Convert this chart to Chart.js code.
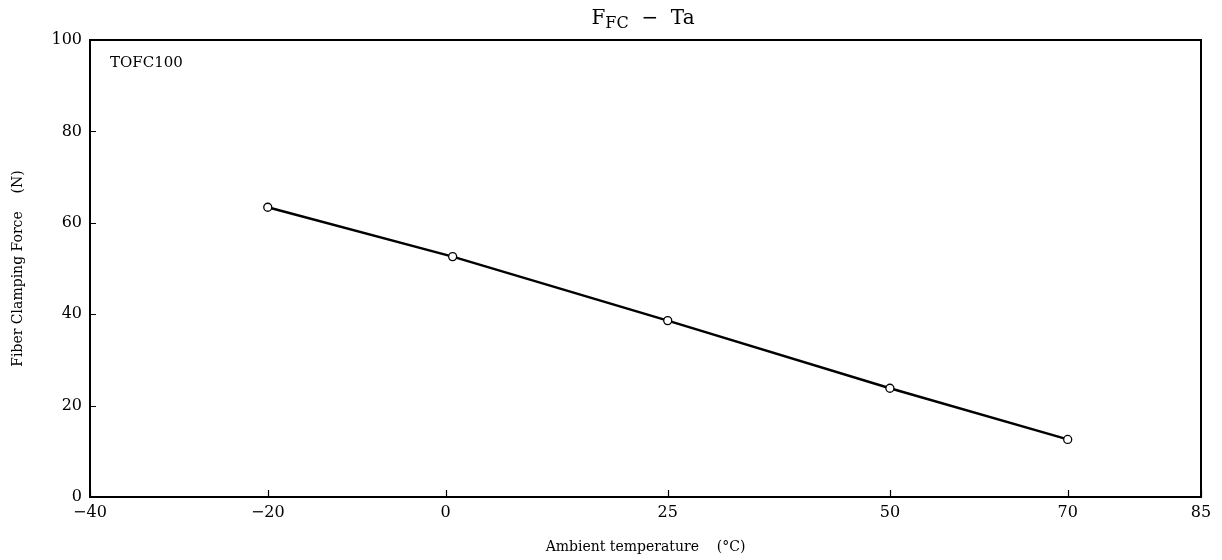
<!DOCTYPE html>
<html>
<head>
<meta charset="utf-8">
<script src="https://cdn.jsdelivr.net/npm/chart.js@4/dist/chart.umd.min.js"></script>
<style>
  html, body { margin: 0; padding: 0; background: #fff; }
  #wrap { width: 1222px; height: 560px; }
</style>
</head>
<body>
<div id="wrap"><canvas id="myChart"></canvas></div>
<script>
// values
const temps = [-20, 0.8, 25, 50, 70];
const forces = [63.4, 52.6, 38.6, 23.8, 12.6];
const xTicks = [-40, -20, 0, 25, 50, 70, 85];
const yTicks = [0, 20, 40, 60, 80, 100];

const serif = '"DejaVu Serif", "Liberation Serif", serif';

// frame, inward tick marks, title and in-plot label
const decor = {
    id: 'decor',
    afterDraw(chart) {
        const ctx = chart.ctx;
        const a = chart.chartArea;
        const xs = chart.scales.x, ys = chart.scales.y;
        ctx.save();
        ctx.strokeStyle = '#000';
        ctx.lineWidth = 2;
        ctx.strokeRect(a.left, a.top, a.right - a.left, a.bottom - a.top);

        ctx.lineWidth = 1.2;
        ctx.beginPath();
        xTicks.forEach(v => {
            const px = Math.round(xs.getPixelForValue(v)) + 0.5;
            ctx.moveTo(px, a.bottom);
            ctx.lineTo(px, a.bottom - 7);
        });
        yTicks.forEach(v => {
            const py = Math.round(ys.getPixelForValue(v)) + 0.5;
            ctx.moveTo(a.left, py);
            ctx.lineTo(a.left + 6, py);
        });
        ctx.stroke();

        // title  F_FC - Ta
        ctx.fillStyle = '#000';
        ctx.textBaseline = 'alphabetic';
        ctx.textAlign = 'left';
        const big = '20px ' + serif, small = '16px ' + serif;
        ctx.font = big;
        const w1 = ctx.measureText('F').width;
        const w3 = ctx.measureText('  \u2212  Ta').width;
        ctx.font = small;
        const w2 = ctx.measureText('FC').width;
        let x = 643 - (w1 + w2 + w3) / 2;
        ctx.font = big;
        ctx.fillText('F', x, 24);
        x += w1;
        ctx.font = small;
        ctx.fillText('FC', x, 28);
        x += w2;
        ctx.font = big;
        ctx.fillText('  \u2212  Ta', x, 24);

        ctx.font = '15px ' + serif;
        ctx.fillText('TOFC100', a.left + 20, 67);
        ctx.restore();
    }
};

const ctx = document.getElementById('myChart').getContext('2d');
const chart = new Chart(ctx, {
    type: 'scatter',
    data: {
        datasets: [{
            label: 'TOFC100',
            data: temps.map((t, i) => ({ x: t, y: forces[i] })),
            showLine: true,
            borderColor: '#000',
            borderWidth: 2.5,
            tension: 0,
            pointRadius: 4,
            pointBackgroundColor: '#fff',
            pointBorderColor: '#000',
            pointBorderWidth: 1.3
        }]
    },
    options: {
        responsive: true,
        maintainAspectRatio: false,
        animation: false,
        layout: { padding: { top: 40, right: 21, left: 0, bottom: 0 } },
        plugins: {
            legend: { display: false },
            tooltip: { enabled: false }
        },
        scales: {
            x: {
                type: 'linear',
                min: -40,
                max: 85,
                afterBuildTicks: scale => {
                    scale.ticks = xTicks.map(v => ({ value: v }));
                },
                afterFit: scale => { scale.height = 63; },
                border: { display: false },
                grid: { display: false, drawTicks: false },
                ticks: {
                    color: '#000',
                    padding: 6,
                    maxRotation: 0,
                    font: { family: serif, size: 16 },
                    callback: v => String(v).replace('-', '\u2212')
                },
                title: {
                    display: true,
                    text: 'Ambient temperature    (\u00b0C)',
                    color: '#000',
                    font: { family: serif, size: 14 },
                    padding: { top: 0, bottom: 4 }
                }
            },
            y: {
                min: 0,
                max: 100,
                afterBuildTicks: scale => {
                    scale.ticks = yTicks.map(v => ({ value: v }));
                },
                afterFit: scale => { scale.width = 90; },
                border: { display: false },
                grid: { display: false, drawTicks: false },
                ticks: {
                    color: '#000',
                    padding: 8,
                    font: { family: serif, size: 16 }
                },
                title: {
                    display: true,
                    text: 'Fiber Clamping Force    (N)',
                    color: '#000',
                    font: { family: serif, size: 14 },
                    padding: { top: 10, bottom: 0 }
                }
            }
        }
    },
    plugins: [decor]
});
</script>
</body>
</html>
